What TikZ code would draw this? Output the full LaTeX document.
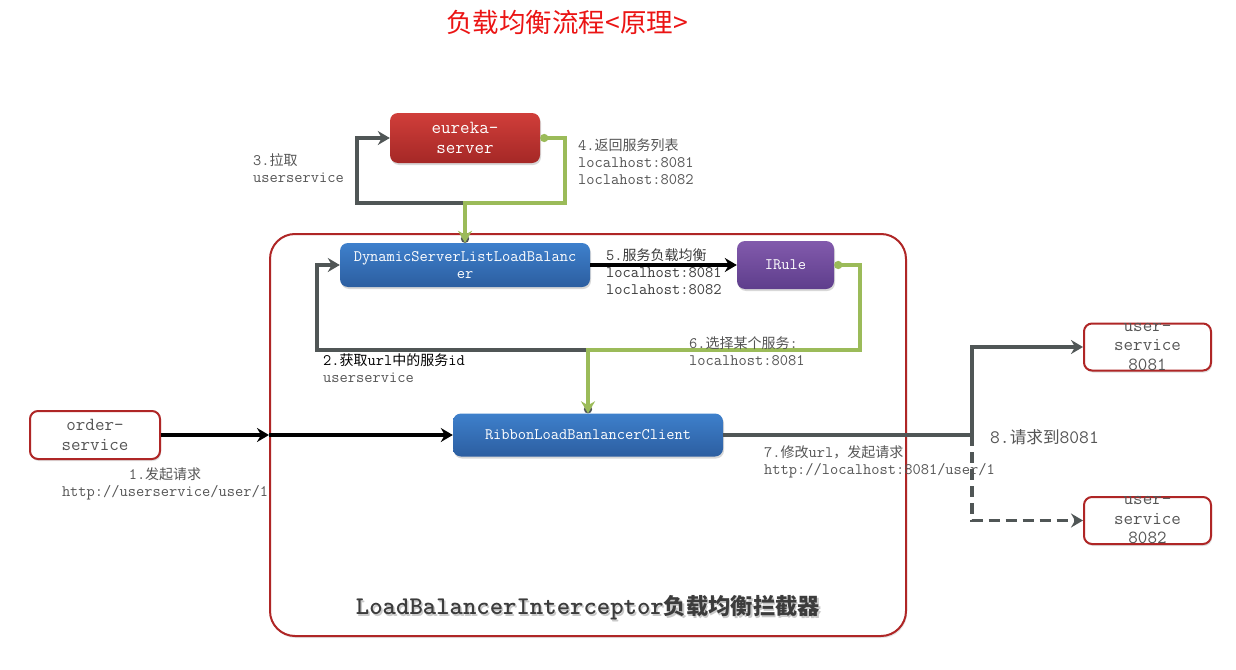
\documentclass[tikz,border=0pt]{standalone}
\usepackage{fontspec}
\newfontfamily\cjk[Scale=0.875]{Noto Sans CJK SC}
\newfontfamily\cjkt{Noto Sans CJK SC}
\usetikzlibrary{arrows.meta,shadows}
\definecolor{titlered}{RGB}{235,20,20}
\definecolor{txtgray}{RGB}{85,85,85}
\definecolor{txtdark}{RGB}{60,60,60}
\definecolor{lgray}{RGB}{80,86,86}
\definecolor{lgreen}{RGB}{155,187,89}
\definecolor{boxred}{RGB}{175,38,38}
\definecolor{redtop}{RGB}{208,62,58}
\definecolor{redbot}{RGB}{165,40,38}
\definecolor{bluetop}{RGB}{62,128,204}
\definecolor{bluebot}{RGB}{44,94,160}
\definecolor{purtop}{RGB}{130,90,172}
\definecolor{purbot}{RGB}{94,62,140}
\newcommand\fsz[2]{\fontsize{#1}{#2}\selectfont}
\begin{document}
\begin{tikzpicture}[x=1pt,y=-1pt,
  lbl/.style={inner sep=0pt, font=\ttfamily\fsz{16}{17}, text=txtgray, align=left, anchor=west},
  shbox/.style={rounded corners=8pt, inner sep=0pt, text=white, align=center,
    font=\ttfamily\fsz{16}{17},
    drop shadow={opacity=0.3, shadow xshift=1pt, shadow yshift=-2pt}},
  redbox/.style={shbox, top color=redtop, bottom color=redbot},
  bluebox/.style={shbox, top color=bluetop, bottom color=bluebot},
  purbox/.style={shbox, top color=purtop, bottom color=purbot},
  svcbox/.style={rounded corners=8pt, draw=boxred, line width=2pt, fill=white,
    drop shadow={opacity=0.25, shadow xshift=1pt, shadow yshift=-2pt}},
  svctext/.style={inner sep=0pt, align=center, text=txtgray, font=\ttfamily\fsz{18.5}{19.5}},
  grayline/.style={draw=lgray, line width=3.5pt, {Circle[length=8pt]}-{Stealth[length=12pt,width=14pt,inset=4pt]}},
  greenline/.style={draw=lgreen, line width=3.5pt, {Circle[length=8pt]}-{Stealth[length=12pt,width=14pt,inset=4pt]}},
  blackline/.style={draw=black, line width=3.5pt, -{Stealth[length=12pt,width=14pt,inset=4pt]}},
  darkline/.style={draw=lgray, line width=3.5pt, -{Stealth[length=12pt,width=14pt,inset=4pt]}},
]
\useasboundingbox (0,0) rectangle (1236,669);
\fill[white] (0,0) rectangle (1236,669);

% title
\node[font=\cjkt\fsz{26.5}{26.5}, text=titlered, inner sep=0pt] (title) at (567,22) {负载均衡流程<原理>};

% container
\node[draw=boxred, line width=2pt, fill=white, rounded corners=25pt,
  minimum width=636pt, minimum height=402pt, inner sep=0pt,
  drop shadow={opacity=0.2, shadow xshift=1pt, shadow yshift=-2pt}] (cont) at (588,435) {};
\node[text=black!35, opacity=0.6, font=\ttfamily\bfseries\fsz{25.5}{25.5}, inner sep=0pt] (contsh) at (589.5,609.5) {LoadBalancerInterceptor{\cjk\bfseries 负载均衡拦截器}};
\node[text=txtdark, font=\ttfamily\bfseries\fsz{25.5}{25.5}, inner sep=0pt] (contlbl) at (588,608) {LoadBalancerInterceptor{\cjk\bfseries 负载均衡拦截器}};

% boxes
\node[redbox, minimum width=150pt, minimum height=50pt, font=\ttfamily\fsz{18.5}{20}] (eureka) at (465,138) {eureka-\\server};
\node[bluebox, minimum width=250pt, minimum height=44pt] (dyn) at (465,265) {DynamicServerListLoadBalanc\\er};
\node[purbox, minimum width=97pt, minimum height=48pt] (irule) at (785.5,265) {IRule};
\node[bluebox, minimum width=270pt, minimum height=43pt] (ribbon) at (588,435) {RibbonLoadBanlancerClient};
\node[svcbox, minimum width=130pt, minimum height=48pt] (order) at (95,435) {};
\node[svctext] (ordert) at (95,435) {order-\\service};
\node[svcbox, minimum width=127pt, minimum height=47pt] (us1) at (1147.5,347) {};
\node[svctext] (us1t) at (1147.5,347) {user-\\service\\8081};
\node[svcbox, minimum width=127pt, minimum height=47pt] (us2) at (1147.5,520.5) {};
\node[svctext] (us2t) at (1147.5,520.5) {user-\\service\\8082};

% bend points
\coordinate (c3) at (357,203);
\coordinate (c4) at (565,203);
\coordinate (c2) at (317,350);
\coordinate (c6) at (860,350);
\coordinate (c7) at (972,435);

% connectors
\draw[grayline] (dyn.north) |- (c3) |- (eureka.west);
\draw[greenline] (eureka.east) -| (c4) -| (dyn.north);
\draw[grayline] (ribbon.north) |- (c2) |- (dyn.west);
\draw[greenline] (irule.east) -| (c6) -| (ribbon.north);
\draw[blackline] (dyn.east) -- (irule.west);
\draw[blackline] (order.east) -- (cont.west);
\draw[blackline] (cont.west) -- (ribbon.west);
\draw[darkline] (ribbon.east) -- (c7) |- (us1.west);
\draw[darkline, dash pattern=on 11pt off 6pt] (c7) |- (us2.west);

% labels
\node[lbl] (l3) at (253,168) {3.{\cjk 拉取}\\userservice};
\node[lbl] (l4) at (578,162) {4.{\cjk 返回服务列表}\\localhost:8081\\loclahost:8082};
\node[lbl, text=txtdark] (l5) at (606,271.5) {5.{\cjk 服务负载均衡}\\localhost:8081\\loclahost:8082};
\node[lbl] (l6) at (689,351.5) {6.{\cjk 选择某个服务}:\\localhost:8081};
\node[lbl] (l2) at (323,368.5) {\textcolor{black}{2.{\cjk 获取}url{\cjk 中的服务}id}\\userservice};
\node[lbl, align=center, anchor=center] (l1) at (165,484) {1.{\cjk 发起请求}\\http://userservice/user/1};
\node[lbl] (l7) at (764,461.5) {7.{\cjk 修改}url{\cjk ，发起请求}\\http://localhost:8081/user/1};
\node[lbl, font=\ttfamily\fsz{19}{20}] (l8) at (990,437) {8.{\cjk 请求到}8081};
\end{tikzpicture}
\end{document}
